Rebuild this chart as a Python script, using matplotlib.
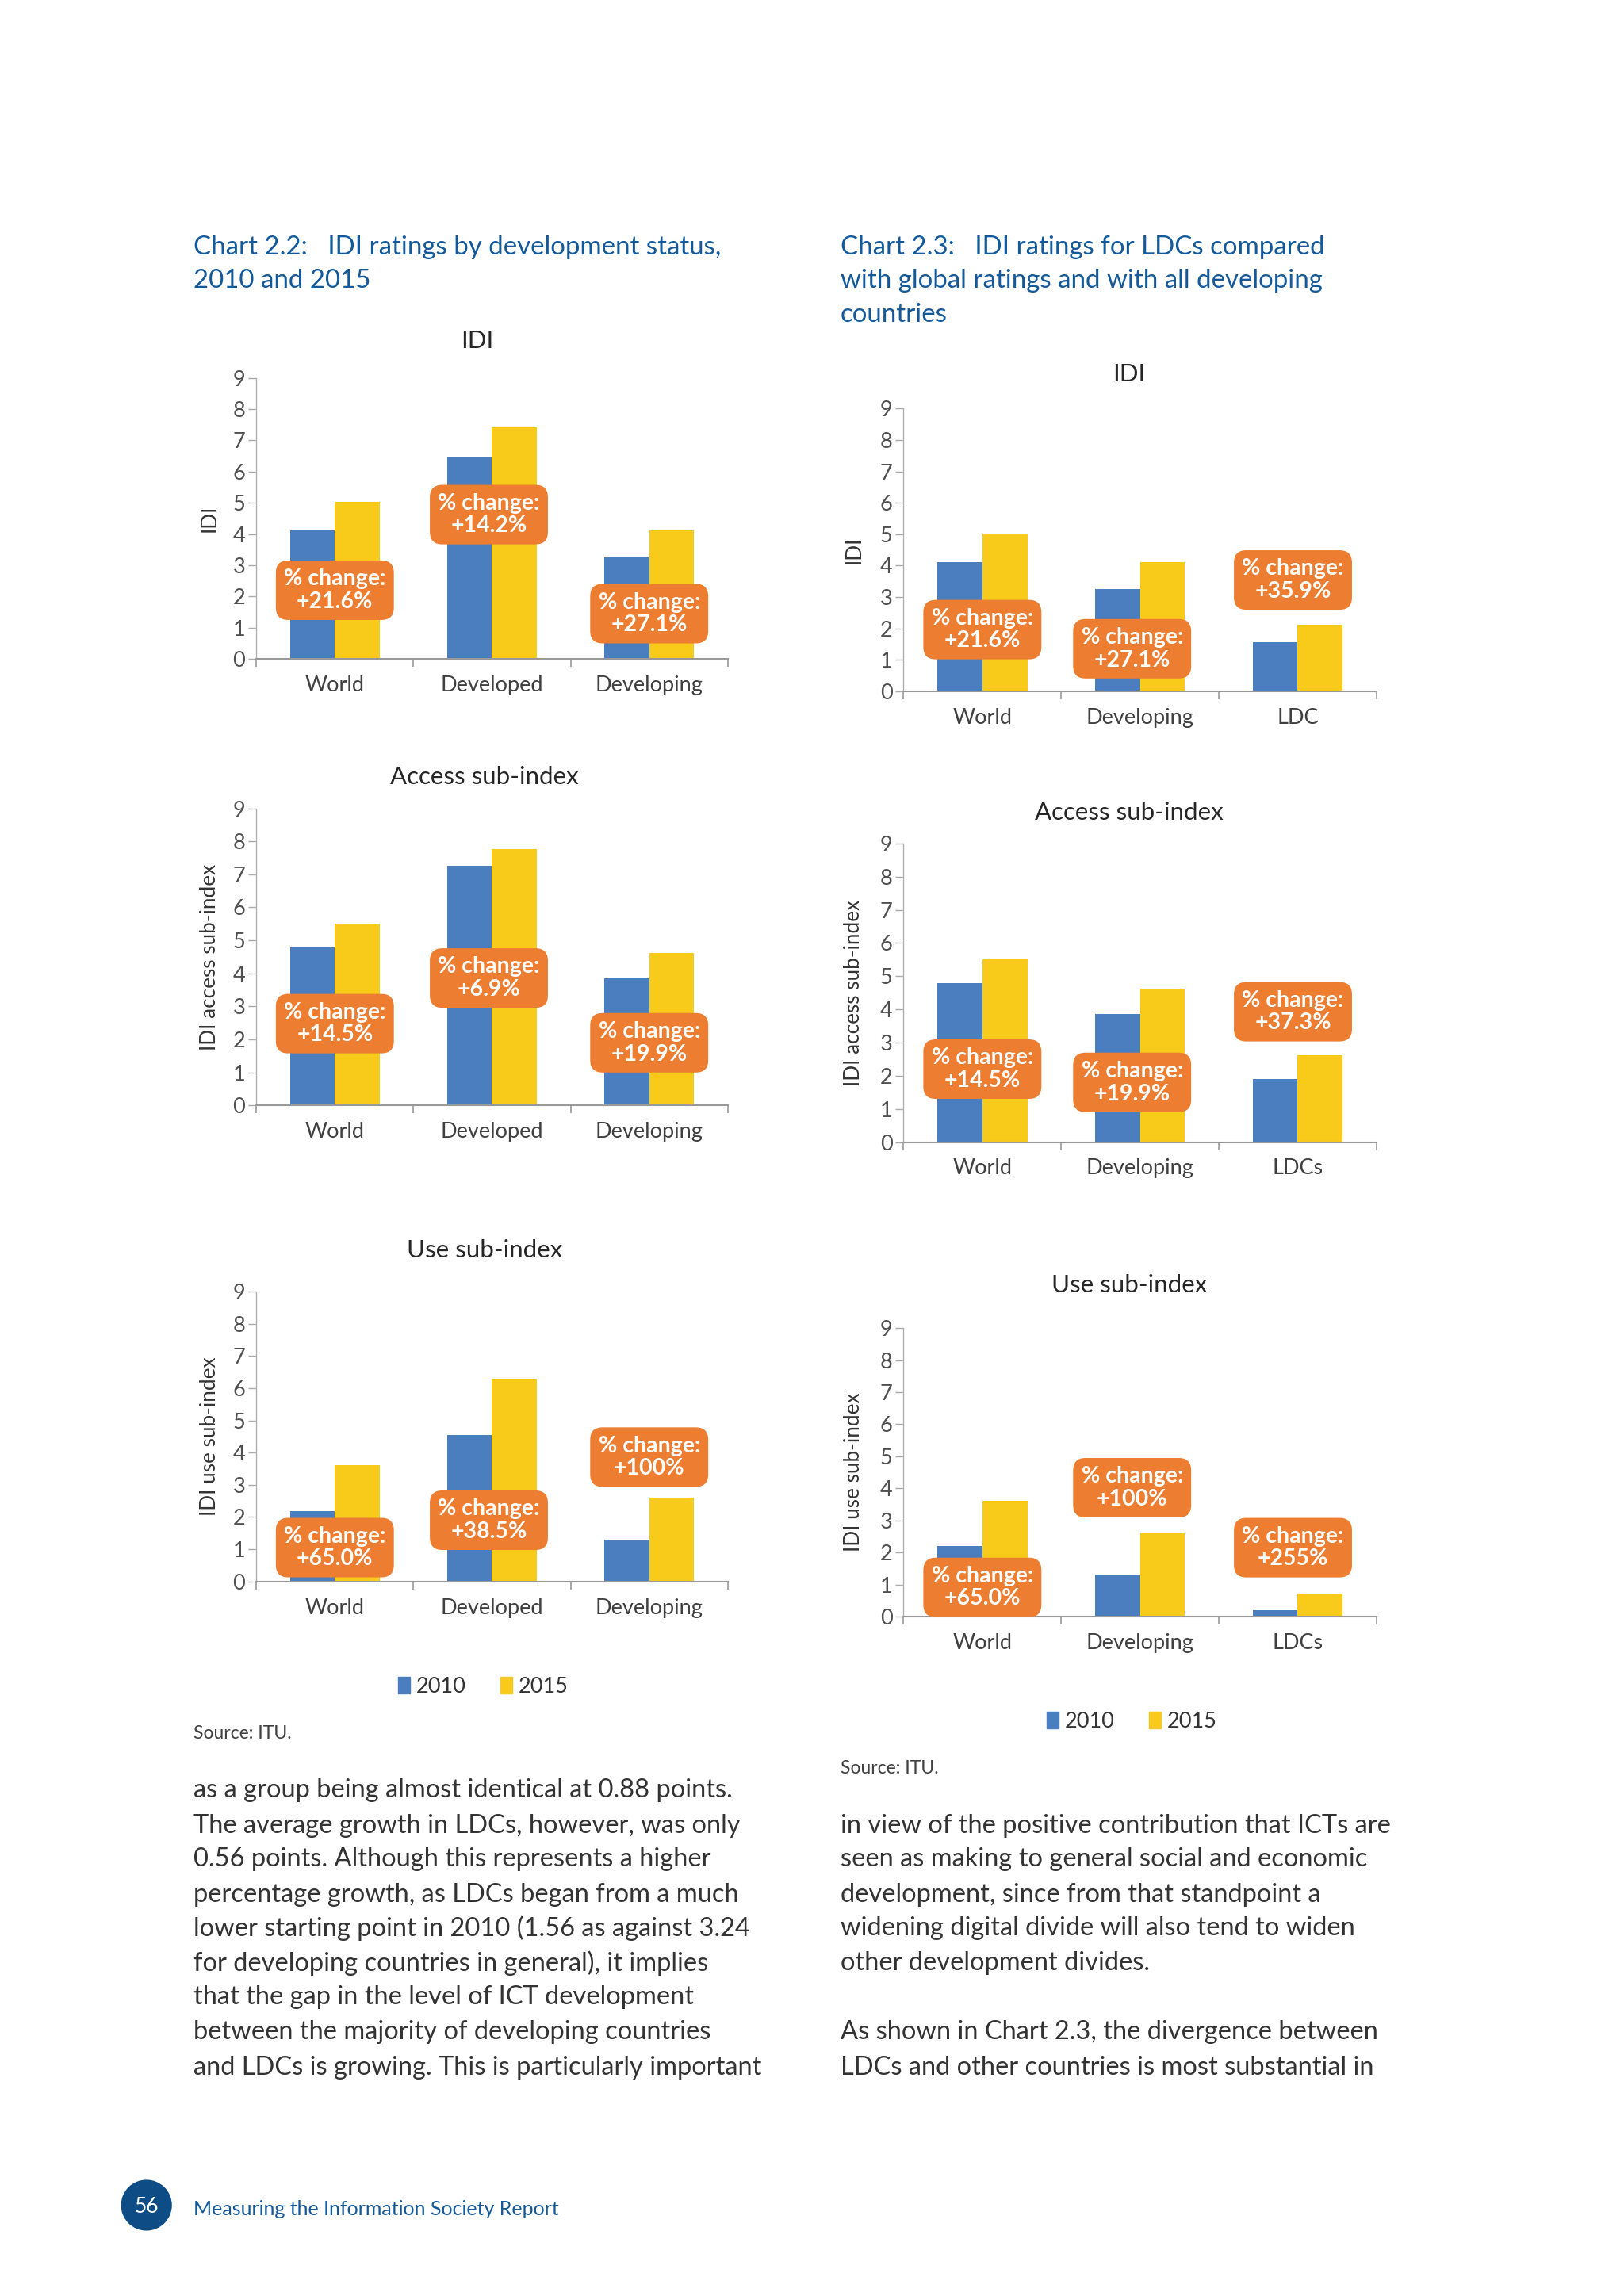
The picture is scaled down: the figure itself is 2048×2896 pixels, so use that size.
import matplotlib
matplotlib.use("Agg")
import matplotlib.pyplot as plt
from matplotlib.patches import Patch, Ellipse
import numpy as np

plt.rcParams['font.family'] = ['Lato', 'DejaVu Sans']

# ---------------- data ----------------
cats_left = ['World', 'Developed', 'Developing']
cats_right_idi = ['World', 'Developing', 'LDC']
cats_right_sub = ['World', 'Developing', 'LDCs']

idi_left_2010 = [4.12, 6.48, 3.24]
idi_left_2015 = [5.03, 7.41, 4.12]
idi_left_chg = ['+21.6%', '+14.2%', '+27.1%']

acc_left_2010 = [4.79, 7.27, 3.86]
acc_left_2015 = [5.50, 7.77, 4.63]
acc_left_chg = ['+14.5%', '+6.9%', '+19.9%']

use_left_2010 = [2.19, 4.55, 1.30]
use_left_2015 = [3.62, 6.30, 2.61]
use_left_chg = ['+65.0%', '+38.5%', '+100%']

idi_right_2010 = [4.12, 3.24, 1.56]
idi_right_2015 = [5.03, 4.12, 2.12]
idi_right_chg = ['+21.6%', '+27.1%', '+35.9%']

acc_right_2010 = [4.79, 3.86, 1.90]
acc_right_2015 = [5.50, 4.63, 2.61]
acc_right_chg = ['+14.5%', '+19.9%', '+37.3%']

use_right_2010 = [2.19, 1.30, 0.20]
use_right_2015 = [3.62, 2.61, 0.71]
use_right_chg = ['+65.0%', '+100%', '+255%']

years = ['2010', '2015']
yticks = list(range(10))

# ---------------- styles / layout ----------------
C2010 = '#4A7EBE'
C2015 = '#F8CB1A'
CBOX = '#ED7D31'
BLUE = '#14599A'
GREY = '#404040'
W, H = 1109.0, 1568.0
DY = 1.8  # small vertical offset for page text


def fx(x):
    return x / W


def fy(y):
    return 1 - y / H


fig = plt.figure(figsize=(20.48, 28.96), dpi=100)
fig.patch.set_facecolor('white')


def panel(x0, x1, y0, y1, cats, v10, v15, chg, box_pos, title, title_xy, ylabel, ylab_x):
    ax = fig.add_axes([fx(x0), fy(y1), (x1 - x0) / W, (y1 - y0) / H])
    x = np.arange(len(cats))
    bw = 0.285
    ax.bar(x - bw / 2, v10, bw, color=C2010, zorder=2)
    ax.bar(x + bw / 2, v15, bw, color=C2015, zorder=2)
    ax.set_xlim(-0.5, len(cats) - 0.5)
    ax.set_ylim(0, 9)
    ax.set_yticks(yticks)
    ax.set_yticklabels([str(t) for t in yticks], fontsize=19.5, color='#505050')
    ax.set_xticks(x)
    ax.set_xticklabels(cats, fontsize=19.5, color=GREY)
    ax.set_xticks(np.arange(-0.5, len(cats)), minor=True)
    ax.tick_params(axis='x', which='major', length=0, pad=15)
    ax.tick_params(axis='x', which='minor', length=7, width=1.2, color='#999999')
    ax.tick_params(axis='y', length=7, width=1.0, color='#aaaaaa', pad=3)
    for s in ['top', 'right']:
        ax.spines[s].set_visible(False)
    ax.spines['left'].set_color('#b0b0b0')
    ax.spines['left'].set_linewidth(1.0)
    ax.spines['bottom'].set_color('#999999')
    ax.spines['bottom'].set_linewidth(1.5)
    ax.set_facecolor('none')
    for i, (bx, by) in enumerate(box_pos):
        ax.text(bx, by, '% change:\n' + chg[i], ha='center', va='center',
                fontsize=20.5, fontweight='bold', color='white', linespacing=1.12,
                zorder=5,
                bbox=dict(boxstyle='round,pad=0.36,rounding_size=0.55', fc=CBOX, ec='none'))
    fig.text(fx(title_xy[0]), fy(title_xy[1] + DY), title, ha='center', va='center',
             fontsize=22.5, color='#262626')
    fig.text(fx(ylab_x), fy((y0 + y1) / 2), ylabel, ha='center', va='center',
             rotation=90, fontsize=18.8, color='#333333')
    return ax


# left column
panel(175, 497, 258, 450, cats_left, idi_left_2010, idi_left_2015, idi_left_chg,
      [(0.0, 2.2), (0.98, 4.62), (2.0, 1.45)], 'IDI', (326, 231), 'IDI', 143)
panel(175, 497, 552, 755, cats_left, acc_left_2010, acc_left_2015, acc_left_chg,
      [(0.0, 2.48), (0.98, 3.86), (2.0, 1.9)], 'Access sub-index', (331, 529),
      'IDI access sub-index', 143)
panel(175, 497, 882, 1080, cats_left, use_left_2010, use_left_2015, use_left_chg,
      [(0.0, 1.05), (0.98, 1.9), (2.0, 3.86)], 'Use sub-index', (331, 852),
      'IDI use sub-index', 143)

# right column
panel(617, 940, 279, 472, cats_right_idi, idi_right_2010, idi_right_2015, idi_right_chg,
      [(0.0, 1.96), (0.95, 1.35), (1.97, 3.54)], 'IDI', (771, 254), 'IDI', 583)
panel(617, 940, 576, 780, cats_right_sub, acc_right_2010, acc_right_2015, acc_right_chg,
      [(0.0, 2.2), (0.95, 1.8), (1.97, 3.93)], 'Access sub-index', (771, 553),
      'IDI access sub-index', 583)
panel(617, 940, 907, 1104, cats_right_sub, use_right_2010, use_right_2015, use_right_chg,
      [(0.0, 0.91), (0.95, 4.02), (1.97, 2.15)], 'Use sub-index', (771, 876),
      'IDI use sub-index', 583)

# legends
handles = [Patch(color=C2010, label=years[0]), Patch(color=C2015, label=years[1])]
for lx, ly in [(330, 1150), (773, 1174)]:
    fig.legend(handles=handles, loc='center', bbox_to_anchor=(fx(lx), fy(ly + DY)), ncol=2,
               frameon=False, handlelength=0.55, handleheight=0.8, handletextpad=0.3,
               columnspacing=1.6, fontsize=19.5, labelcolor='#333333')

# chart titles
TS = 23.8
fig.text(fx(132), fy(167 + DY), 'Chart 2.2:   IDI ratings by development status,', fontsize=TS,
         color=BLUE, va='center', ha='left')
fig.text(fx(132), fy(190 + DY), '2010 and 2015', fontsize=TS, color=BLUE, va='center', ha='left')
fig.text(fx(574), fy(167 + DY), 'Chart 2.3:   IDI ratings for LDCs compared', fontsize=TS,
         color=BLUE, va='center', ha='left')
fig.text(fx(574), fy(190 + DY), 'with global ratings and with all developing', fontsize=TS,
         color=BLUE, va='center', ha='left')
fig.text(fx(574), fy(213 + DY), 'countries', fontsize=TS, color=BLUE, va='center', ha='left')

# sources
fig.text(fx(132), fy(1182 + DY), 'Source: ITU.', fontsize=16.5, color='#404040', va='center')
fig.text(fx(574), fy(1206 + DY), 'Source: ITU.', fontsize=16.5, color='#404040', va='center')

# body text
BS = 23.5
left_lines = [
    'as a group being almost identical at 0.88 points.',
    'The average growth in LDCs, however, was only',
    '0.56 points. Although this represents a higher',
    'percentage growth, as LDCs began from a much',
    'lower starting point in 2010 (1.56 as against 3.24',
    'for developing countries in general), it implies',
    'that the gap in the level of ICT development',
    'between the majority of developing countries',
    'and LDCs is growing. This is particularly important',
]
left_y = [1221, 1245, 1268, 1292, 1315, 1339, 1362, 1386, 1410]
for t, yy in zip(left_lines, left_y):
    fig.text(fx(132), fy(yy + DY), t, fontsize=BS, color='#333333', va='center', ha='left')

right_lines = [
    'in view of the positive contribution that ICTs are',
    'seen as making to general social and economic',
    'development, since from that standpoint a',
    'widening digital divide will also tend to widen',
    'other development divides.',
    'As shown in Chart 2.3, the divergence between',
    'LDCs and other countries is most substantial in',
]
right_y = [1245, 1268, 1292, 1315, 1339, 1386, 1410]
for t, yy in zip(right_lines, right_y):
    fig.text(fx(574), fy(yy + DY), t, fontsize=BS, color='#333333', va='center', ha='left')

# footer
fig.add_artist(Ellipse((fx(100), fy(1506)), 34 / W, 34 / H, transform=fig.transFigure,
                       color='#0E4C86'))
fig.text(fx(100), fy(1506 + 1), '56', fontsize=19, color='white', ha='center', va='center')
fig.text(fx(132), fy(1507 + DY), 'Measuring the Information Society Report', fontsize=18,
         color=BLUE, ha='left', va='center')

fig.savefig('out.png', dpi=100, facecolor='white')
